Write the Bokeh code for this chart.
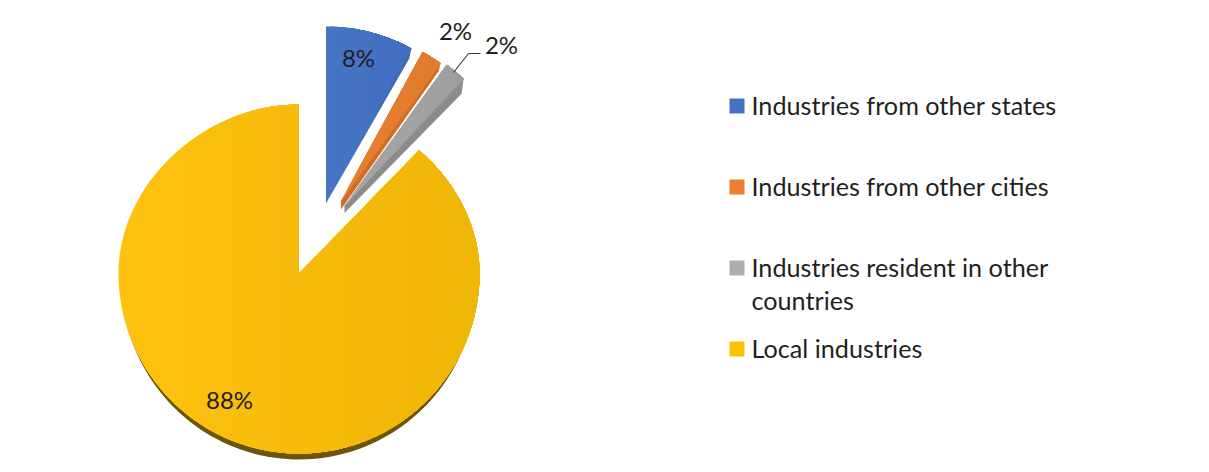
import math
from bokeh.plotting import figure
from bokeh.models import Range1d
from bokeh.core.properties import value
from bokeh.embed import file_html
from bokeh.resources import INLINE

categories = ["Industries from other states", "Industries from other cities",
              "Industries resident in other countries", "Local industries"]
shares = [8, 2, 2, 88]
share_labels = ["8%", "2%", "2%", "88%"]
legend_lines = [["Industries from other states"], ["Industries from other cities"],
                ["Industries resident in other", "countries"], ["Local industries"]]
legend_colors = ["#4472C4", "#ED7D31", "#ADAEB0", "#FFC000"]

# layout (screen-pixel coordinates of the picture)
W, H = 1209, 472
OX, OY = 1, 0
apex = [(326.5, 203), (341.5, 200), (345, 205), (299.5, 273)]
radii = [(177, 177, 177), (169.5, 169.5, 169.5), (174, 174, 174), (180.5, 169, 180)]
taper = [0, 0, 0, 9.4]
light = [(0x47, 0x75, 0xC6), (0xE8, 0x80, 0x30), (0xA6, 0xA6, 0xA6), (0xFE, 0xC1, 0x10)]
dark = [(0x41, 0x6E, 0xBE), (0xE0, 0x7A, 0x2C), (0x9E, 0x9E, 0x9E), (0xF0, 0xB6, 0x05)]
side = ["#3F69B4", "#D06E26", "#8C8C8C", "#6B5506"]
depth = [10, 8, 15, 6]
tip_depth = [0, 9, 7.5, 0]
label_xy = [(359, 57), (456, 30), (502, 44), (230, 399)]
FONT = "Lato"
INK = "#231F20"

p = figure(width=W, height=H, output_backend="svg", toolbar_location=None,
           x_range=Range1d(OX, OX + W), y_range=Range1d(OY + H, OY),
           min_border=0, outline_line_color=None, background_fill_color="white",
           border_fill_color="white")
p.axis.visible = False
p.grid.visible = False


def pt(i, deg):
    cx, cy = apex[i]
    rx, up, down = radii[i]
    a = math.radians(deg)
    s, c = math.sin(a), math.cos(a)
    rx2 = rx - taper[i] * c * c if c > 0 else rx
    return cx + rx2 * s, cy - (up if c >= 0 else down) * c


def clip_right(poly, x0):
    out = []
    for j in range(len(poly)):
        a, b = poly[j], poly[(j + 1) % len(poly)]
        ina, inb = a[0] >= x0, b[0] >= x0
        if ina:
            out.append(a)
        if ina != inb:
            t = (x0 - a[0]) / (b[0] - a[0])
            out.append((x0, a[1] + (b[1] - a[1]) * t))
    return out


def mix(i, t):
    return "#%02x%02x%02x" % tuple(round(light[i][k] + (dark[i][k] - light[i][k]) * t) for k in range(3))


total = sum(shares)
starts = []
run = 0
for v in shares:
    starts.append(run)
    run += 360 * v / total

# the yellow slice's rim is drawn first, everything else lies over it
i = 3
s0, s1 = starts[3], starts[3] + 360 * shares[3] / total
n = 160
rim = [pt(i, s0 + (s1 - s0) * k / n) for k in range(n + 1)]
p.patch([apex[i][0]] + [x * 0.985 + apex[i][0] * 0.015 for x, _ in rim],
        [apex[i][1]] + [y + depth[i] for _, y in rim], fill_color=side[i], line_color=None)

for i in [3, 0, 1, 2]:
    s0 = starts[i]
    s1 = s0 + 360 * shares[i] / total
    cx, cy = apex[i]
    if i != 3:
        ex, ey = pt(i, s1)
        p.patch([cx, ex, ex - 2, cx], [cy, ey, ey + depth[i], cy + tip_depth[i]],
                fill_color=side[i], line_color=None)
    m = max(8, int(s1 - s0))
    poly = [(cx, cy)] + [pt(i, s0 + (s1 - s0) * k / m) for k in range(m + 1)]
    xs = [q[0] for q in poly]
    xmin, xmax = min(xs), max(xs)
    steps = 16
    for k in range(steps):
        part = clip_right(poly, xmin + (xmax - xmin) * k / steps)
        if part:
            p.patch([q[0] for q in part], [q[1] for q in part],
                    fill_color=mix(i, k / (steps - 1)), line_color=None)

# leader line of the grey slice's label
p.line([454, 469, 481], [72, 53, 53], line_color="#404040", line_width=1.2)

p.text([q[0] for q in label_xy], [q[1] for q in label_xy], text=share_labels,
       text_font=value(FONT), text_font_size="24px", text_color=INK,
       text_align="center", text_baseline="middle")

row_y = [106, 187, 268, 349]
for y, lines, col in zip(row_y, legend_lines, legend_colors):
    p.rect([737.5], [y - 0.5], width=15, height=15, fill_color=col, line_color=None)
    for j, line in enumerate(lines):
        p.text([752], [y - 2 + j * 33], text=[line], text_font=value(FONT), text_font_size="25.2px",
               text_color=INK, text_align="left", text_baseline="middle")

open("out.html", "w").write(file_html(p, INLINE))
